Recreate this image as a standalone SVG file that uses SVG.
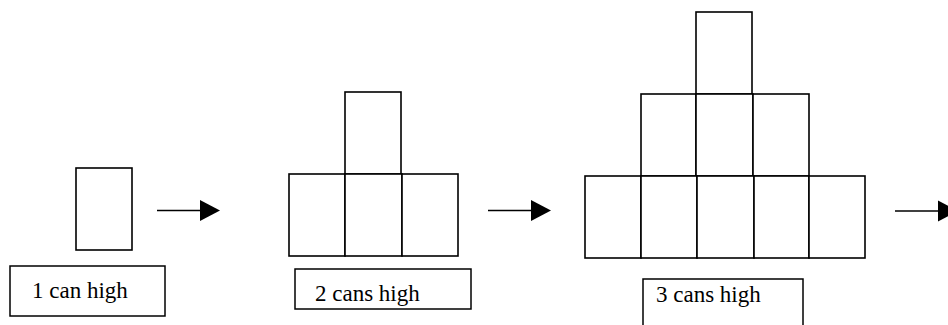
<svg xmlns="http://www.w3.org/2000/svg" width="948" height="325" viewBox="0 0 948 325">
<style>
.can{fill:#fff;stroke:#000;stroke-width:1.6}
.box{fill:#fff;stroke:#000;stroke-width:1.5}
.arr{stroke:#000;stroke-width:1.6;fill:none}
.head{fill:#000;stroke:none}
</style>
<rect width="948" height="325" fill="#fff"/>
<g id="stage1">
<rect class="can" x="76" y="168" width="56" height="82"/>
</g>
<g id="label1">
<rect class="box" x="10" y="266" width="155" height="50"/>
<text font-family="Liberation Serif, DejaVu Serif, serif" font-size="23" x="32" y="298">1 can high</text>
</g>
<g id="stage2">
<rect class="can" x="345" y="92" width="56" height="82"/>
<rect class="can" x="289" y="174" width="56" height="82"/>
<rect class="can" x="345" y="174" width="57" height="82"/>
<rect class="can" x="402" y="174" width="56" height="82"/>
</g>
<g id="label2">
<rect class="box" x="295" y="269" width="176" height="40"/>
<text font-family="Liberation Serif, DejaVu Serif, serif" font-size="23" x="315" y="301">2 cans high</text>
</g>
<g id="stage3">
<rect class="can" x="696" y="12" width="56" height="82"/>
<rect class="can" x="641" y="94" width="55" height="82"/>
<rect class="can" x="696" y="94" width="57" height="82"/>
<rect class="can" x="753" y="94" width="56" height="82"/>
<rect class="can" x="585" y="176" width="56" height="82"/>
<rect class="can" x="641" y="176" width="56" height="82"/>
<rect class="can" x="697" y="176" width="57" height="82"/>
<rect class="can" x="754" y="176" width="55" height="82"/>
<rect class="can" x="809" y="176" width="56" height="82"/>
</g>
<g id="label3">
<rect class="box" x="643" y="279" width="160" height="60"/>
<text font-family="Liberation Serif, DejaVu Serif, serif" font-size="23" x="656" y="302">3 cans high</text>
</g>
<g id="connectors">
<line class="arr" x1="157" y1="210.5" x2="201" y2="210.5"/>
<polygon class="head" points="200,200 220,210.5 200,221"/>
<line class="arr" x1="488" y1="210.5" x2="532" y2="210.5"/>
<polygon class="head" points="531,200 551,210.5 531,221"/>
<line class="arr" x1="895" y1="211" x2="939" y2="211"/>
<polygon class="head" points="938,200.5 958,211 938,221.5"/>
</g>
</svg>
